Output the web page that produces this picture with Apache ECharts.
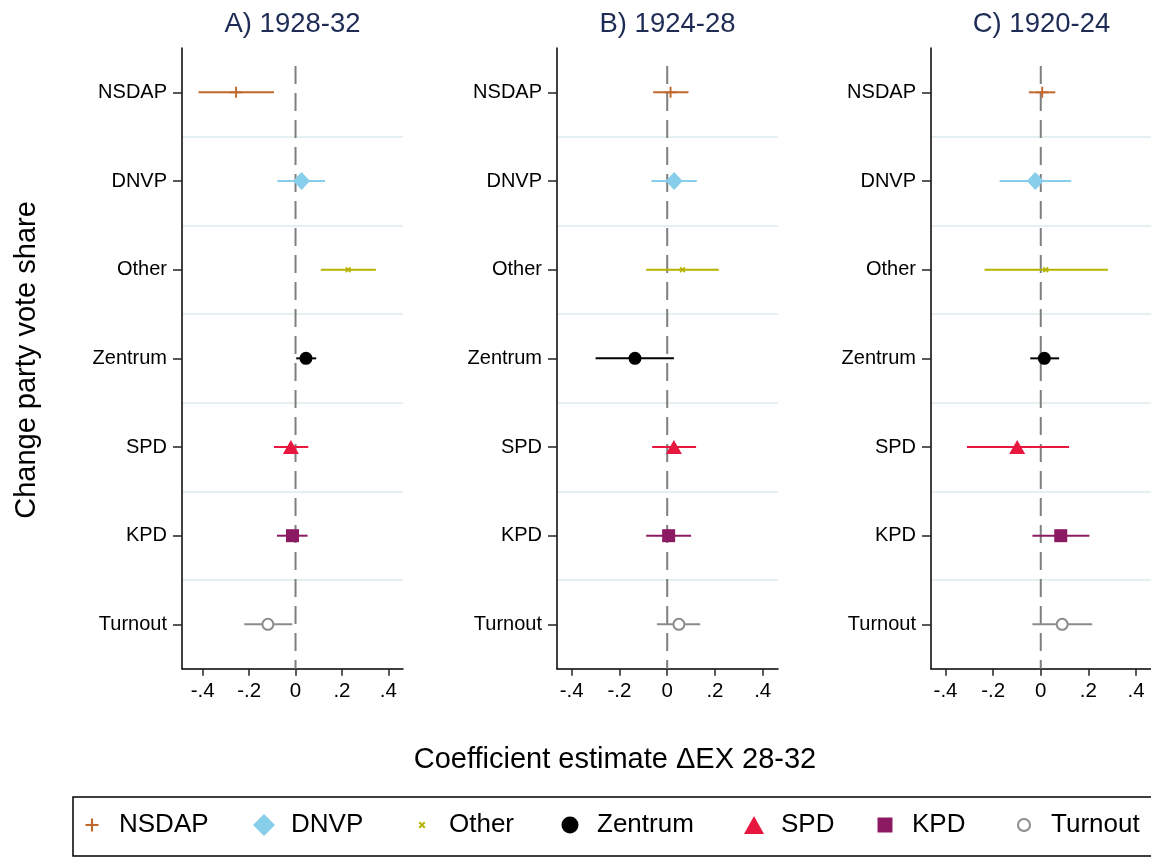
<!DOCTYPE html>
<html><head><meta charset="utf-8">
<script src="https://cdn.jsdelivr.net/npm/echarts@6/dist/echarts.min.js"></script>
<style>html,body{margin:0;padding:0;background:#fff}#c{width:1151px;height:857px}</style>
</head><body><div id="c"></div>
<script>
// ---------------- data ----------------
const parties = ['NSDAP', 'DNVP', 'Other', 'Zentrum', 'SPD', 'KPD', 'Turnout'];
const panelTitles = ['A) 1928-32', 'B) 1924-28', 'C) 1920-24'];
const tickValues = [-0.4, -0.2, 0, 0.2, 0.4];
const tickLabels = ['-.4', '-.2', '0', '.2', '.4'];
const zeroLine = [0];
// point estimates and confidence bounds, in the order of `parties`
const estA = [-0.256, 0.026, 0.227, 0.045, -0.020, -0.013, -0.119];
const loA  = [-0.418, -0.078, 0.109, 0.003, -0.093, -0.080, -0.221];
const hiA  = [-0.093, 0.127, 0.346, 0.089, 0.055, 0.052, -0.014];
const estB = [0.014, 0.029, 0.064, -0.135, 0.028, 0.006, 0.049];
const loB  = [-0.059, -0.066, -0.088, -0.300, -0.063, -0.088, -0.043];
const hiB  = [0.089, 0.124, 0.216, 0.028, 0.121, 0.100, 0.138];
const estC = [0.006, -0.023, 0.021, 0.015, -0.099, 0.084, 0.090];
const loC  = [-0.050, -0.173, -0.236, -0.044, -0.310, -0.035, -0.035];
const hiC  = [0.061, 0.128, 0.282, 0.077, 0.119, 0.204, 0.216];
const xMin = [-0.489, -0.4616, -0.461];
const xMax = [0.463, 0.464, 0.463];
const xTitle = 'Coefficient estimate \u0394EX 28-32';
const yTitle = 'Change party vote share';

// ---------------- styles ----------------
const FONT = "'Liberation Sans', Arial, sans-serif";
const colors = ['#c2672b', '#87ceeb', '#b5b300', '#000000', '#e8173f', '#8b1a62', '#8c8c8c'];
const PLUS = 'path://M0,4.2L4.2,4.2L4.2,0L5.8,0L5.8,4.2L10,4.2L10,5.8L5.8,5.8L5.8,10L4.2,10L4.2,5.8L0,5.8Z';
const CROSS = 'path://M0,2L2,0L5,3L8,0L10,2L7,5L10,8L8,10L5,7L2,10L0,8L3,5Z';
const symbols = [PLUS, 'diamond', CROSS, 'circle', 'triangle', 'rect', 'emptyCircle'];
const symSizes = [[12, 11], [17, 18], 6, 13, [16, 14], 13, 11];
const legendSyms = [PLUS, 'path://M5,0L10,5L5,10L0,5Z', CROSS, 'circle', 'path://M5,0L10,9L0,9Z', 'path://M0,0L10,0L10,10L0,10Z', 'emptyCircle'];
const legendSize = [[13, 13], [22, 22], [7, 7], [17, 17], [20, 18], [15, 15], [12, 12]];
const legendCenters = [92, 264, 422, 570, 754, 885, 1023];

const gridLeft = [182, 557, 931];
const gridW = 221, gridTop = 48, gridH = 620.7;

const data = [[estA, loA, hiA], [estB, loB, hiB], [estC, loC, hiC]];

const option = {
  animation: false,
  backgroundColor: '#fff',
  title: panelTitles.map((t, p) => ({
    text: t, left: gridLeft[p] + gridW / 2 - 5, top: 5, textAlign: 'center',
    textStyle: { fontSize: 27.5, fontWeight: 'normal', color: '#1e2c55', fontFamily: FONT }
  })),
  grid: gridLeft.map(l => ({ left: l, top: gridTop, width: gridW, height: gridH })),
  xAxis: gridLeft.map((l, p) => ({
    type: 'value', gridIndex: p, min: xMin[p], max: xMax[p],
    axisLine: { show: true, onZero: false, lineStyle: { color: '#000', width: 1.5 } },
    axisTick: { show: true, length: 7, customValues: tickValues, lineStyle: { color: '#222', width: 1.5 } },
    axisLabel: { customValues: tickValues, margin: 12, fontSize: 20.5, color: '#000', fontFamily: FONT,
      formatter: v => tickLabels[tickValues.indexOf(v)] },
    splitLine: { show: false }
  })),
  yAxis: [].concat(...gridLeft.map((l, p) => ([
    {
      type: 'category', gridIndex: p, data: parties, inverse: true, boundaryGap: true,
      axisLine: { show: true, onZero: false, lineStyle: { color: '#000', width: 1.5 } },
      axisTick: { show: true, alignWithLabel: true, length: 9, lineStyle: { color: '#222', width: 1.5 } },
      axisLabel: { margin: 15, fontSize: 20, color: '#000', fontFamily: FONT },
      splitLine: { show: false }
    },
    {
      type: 'value', gridIndex: p, min: 0, max: parties.length, interval: 1, inverse: true,
      axisLine: { show: false }, axisTick: { show: false }, axisLabel: { show: false },
      splitLine: { show: true, showMinLine: false, showMaxLine: false, lineStyle: { color: '#e6eff1', width: 2 } }
    }
  ]))),
  legend: parties.map((name, i) => {
    const w = legendSize[i][0], h = legendSize[i][1];
    return {
      data: [{ name, icon: legendSyms[i] }],
      left: legendCenters[i] - w / 2, top: 827 - 15, padding: 0,
      itemWidth: w, itemHeight: h, symbolKeepAspect: true,
      textStyle: { fontSize: 26, color: '#000', fontFamily: FONT, padding: [0, 0, 0, 27 - w / 2 - 5] }
    };
  }),
  graphic: [
    { type: 'rect', shape: { x: 73, y: 797, width: 1110, height: 59 }, style: { fill: 'none', stroke: '#000', lineWidth: 1.5 }, silent: true },
    { type: 'text', x: 615, y: 760, style: { text: xTitle, fontSize: 29, fontFamily: FONT, fill: '#000', align: 'center', verticalAlign: 'middle' } },
    { type: 'text', x: 27, y: 360, rotation: Math.PI / 2, style: { text: yTitle, fontSize: 29, fontFamily: FONT, fill: '#000', align: 'center', verticalAlign: 'middle' } }
  ],
  series: []
};

data.forEach((d, p) => {
  const [est, lo, hi] = d;
  // dashed reference line at zero
  option.series.push({
    type: 'custom', name: 'zero' + p, xAxisIndex: p, yAxisIndex: p * 2 + 1, z: 1, silent: true,
    data: zeroLine.map(v => [v]),
    encode: { x: 0 },
    renderItem: (params, api) => {
      const cs = params.coordSys;
      const x = api.coord([api.value(0), 0])[0];
      return { type: 'line', shape: { x1: x, y1: cs.y + 18, x2: x, y2: cs.y + cs.height },
        style: { stroke: '#7f7f7f', lineWidth: 2, lineDash: [18, 9] } };
    }
  });
  // confidence intervals (drawn at the centre of each category band)
  option.series.push({
    type: 'custom', name: 'ci' + p, xAxisIndex: p, yAxisIndex: p * 2 + 1, z: 2, silent: true,
    data: parties.map((n, i) => [lo[i], hi[i], i + 0.5]),
    encode: { x: [0, 1], y: 2 },
    renderItem: (params, api) => {
      const i = params.dataIndex;
      const a = api.coord([api.value(0), api.value(2)]);
      const b = api.coord([api.value(1), api.value(2)]);
      return { type: 'line', shape: { x1: a[0], y1: a[1], x2: b[0], y2: b[1] }, style: { stroke: colors[i], lineWidth: 2 } };
    }
  });
  parties.forEach((name, i) => {
    option.series.push({
      type: 'scatter', name, xAxisIndex: p, yAxisIndex: p * 2, z: 3,
      symbol: symbols[i], symbolSize: symSizes[i],
      itemStyle: { color: colors[i], opacity: 1 },
      data: [[est[i], name]]
    });
  });
});

const chart = echarts.init(document.getElementById('c'), null, { renderer: 'canvas' });
chart.setOption(option);
</script>
</body></html>
